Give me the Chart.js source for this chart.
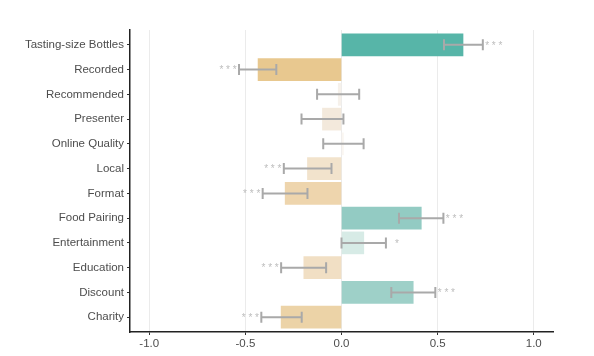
<!DOCTYPE html>
<html><head><meta charset="utf-8">
<script src="https://cdn.jsdelivr.net/npm/chart.js@4/dist/chart.umd.min.js"></script>
<style>html,body{margin:0;padding:0;background:#fff}#wrap{width:594px;height:356px}</style>
</head><body><div id="wrap"><canvas id="c"></canvas></div>
<script>
const categories = ["Tasting-size Bottles","Recorded","Recommended","Presenter","Online Quality","Local","Format","Food Pairing","Entertainment","Education","Discount","Charity"];
const estimates = [0.632,-0.434,-0.017,-0.099,0.01,-0.177,-0.293,0.415,0.116,-0.196,0.373,-0.314];
const lowerCI = [0.533,-0.533,-0.127,-0.208,-0.095,-0.30,-0.41,0.299,0.0,-0.314,0.259,-0.417];
const upperCI = [0.735,-0.339,0.092,0.01,0.115,-0.052,-0.177,0.53,0.231,-0.08,0.488,-0.207];
const stars = ["***","***","","","","***","***","***","*","***","***","***"];
const barColors = ["#57b5a8","#e8c88f","#f6f1eb","#f3e9dc","#faf6f1","#f2e3cc","#eed5ad","#93cbc3","#d7ebe6","#f1dfc4","#9ed0c8","#ecd3a7"];
const xTicks = [-1.0,-0.5,0.0,0.5,1.0];

const errPlugin = {
  id:'err',
  afterDatasetsDraw(chart){
    const ctx=chart.ctx, xs=chart.scales.x, ys=chart.scales.y;
    ctx.save();
    categories.forEach((c,i)=>{
      const y=ys.getPixelForValue(i+1);
      const x1=xs.getPixelForValue(lowerCI[i]), x2=xs.getPixelForValue(upperCI[i]);
      ctx.strokeStyle='#a9a9a9'; ctx.lineWidth=2;
      ctx.beginPath();
      ctx.moveTo(x1,y); ctx.lineTo(x2,y);
      ctx.moveTo(x1,y-5.5); ctx.lineTo(x1,y+5.5);
      ctx.moveTo(x2,y-5.5); ctx.lineTo(x2,y+5.5);
      ctx.stroke();
      if(stars[i]){
        ctx.fillStyle='#bdbdbd'; ctx.font='10px "Liberation Sans", Arial, sans-serif';
        ctx.textAlign='center'; ctx.textBaseline='middle';
        const pos = estimates[i]>=0;
        const xe = pos ? x2+11 : x1-11;
        ctx.fillText(stars[i].split('').join(' '), xe, y+1);
      }
    });
    ctx.restore();
  }
};

new Chart(document.getElementById('c'),{
  type:'bar',
  data:{datasets:[{
    data:categories.map((c,i)=>({x:estimates[i],y:i+1})),
    backgroundColor:barColors, borderWidth:0, barThickness:22
  }]},
  options:{
    indexAxis:'y', responsive:true, maintainAspectRatio:false, animation:false,
    layout:{padding:{top:30,right:41,left:0,bottom:0}},
    plugins:{legend:{display:false},tooltip:{enabled:false}},
    scales:{
      x:{type:'linear',min:-1.1,max:1.1,offset:false,
        afterBuildTicks(s){s.ticks=xTicks.map(v=>({value:v}));},
        afterFit(s){s.height=24;},
        grid:{color:'#ebebeb',lineWidth:1,tickColor:'#333',tickLength:3,offset:false},
        border:{color:'#222',width:1.5},
        ticks:{color:'#4d4d4d',padding:2,font:{family:'"Liberation Sans", Arial, sans-serif',size:11.5},
          callback:(v)=>Number(v).toFixed(1)}
      },
      y:{type:'linear',min:0.4,max:12.6,reverse:true,offset:false,
        afterBuildTicks(s){s.ticks=categories.map((c,i)=>({value:i+1}));},
        afterFit(s){s.width=130;},
        grid:{drawOnChartArea:false,tickColor:'#333',tickLength:3,offset:false},
        border:{color:'#222',width:1.5},
        ticks:{color:'#4d4d4d',padding:3,autoSkip:false,font:{family:'"Liberation Sans", Arial, sans-serif',size:11.5},
          callback:(v)=>categories[Math.round(v)-1]}
      }
    }
  },
  plugins:[errPlugin]
});
</script></body></html>
